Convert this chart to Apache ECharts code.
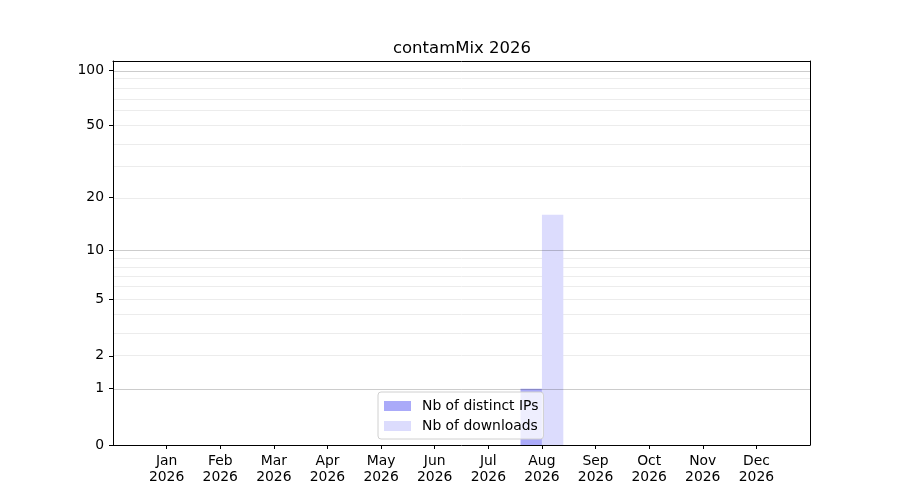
<!DOCTYPE html>
<html lang="en">
<head>
    <meta charset="UTF-8">
    <title>contamMix 2026</title>
</head>
<body style="margin:0">
    <div id="chart" style="width: 900px;height:500px;"></div>
    <script src="https://cdn.jsdelivr.net/npm/echarts@6/dist/echarts.min.js"></script>
    <script type="text/javascript">
       // data
       var months = ['Jan', 'Feb', 'Mar', 'Apr', 'May', 'Jun', 'Jul', 'Aug', 'Sep', 'Oct', 'Nov', 'Dec'];
       var year = '2026';
       var distinctIPs = [0, 0, 0, 0, 0, 0, 0, 1, 0, 0, 0, 0];
       var downloads = [0, 0, 0, 0, 0, 0, 0, 16, 0, 0, 0, 0];
       var yTicks = [0, 1, 2, 5, 10, 20, 50, 100];
       var majorGrid = [1, 10, 100];
       var minorGrid = [2, 3, 4, 5, 6, 7, 8, 9, 20, 30, 40, 50, 60, 70, 80, 90];
       var yMax = 112;

       // y scale is log10(1 + v)
       function t(v) { return Math.log10(1 + v); }
       function untr(v) { return Math.round(Math.pow(10, v) - 1); }

       var font = 'DejaVu Sans';
       var myChart = echarts.init(document.getElementById('chart'));

       // grid lines as markLines: minor ones under the bars, major ones over
       function gridSeries(vals, color, z) {
           return {
               type: 'line',
               z: z,
               data: [],
               markLine: {
                   silent: true,
                   z: z,
                   symbol: 'none',
                   label: { show: false },
                   lineStyle: { color: color, width: 1, type: 'solid' },
                   data: vals.map(function (v) { return { yAxis: t(v) }; })
               }
           };
       }
       var xTickPos = months.map(function (m, i) { return i + 1; });
       var frame = { show: true, onZero: false, lineStyle: { color: '#000', width: 1 } };

       var option = {
           animation: false,
           textStyle: { fontFamily: font },
           title: {
               text: 'contamMix ' + year,
               left: 457,
               top: 35,
               textAlign: 'center',
               textStyle: { fontFamily: font, fontSize: 16.5, fontWeight: 'normal', color: '#000' }
           },
           grid: { left: 113, right: 90, top: 61, bottom: 55 },
           legend: {
               orient: 'vertical',
               left: 378,
               top: 392,
               z: 8,
               padding: [7, 5, 6, 6],
               itemGap: 6,
               itemWidth: 27,
               itemHeight: 10,
               icon: 'rect',
               borderColor: '#d0d0d0',
               borderWidth: 1,
               borderRadius: 3,
               backgroundColor: 'rgba(255,255,255,0.8)',
               textStyle: { fontFamily: font, fontSize: 13.9, color: '#000', padding: [0, 0, 0, 6] },
               data: ['Nb of distinct IPs', 'Nb of downloads']
           },
           xAxis: [{
               type: 'value',
               min: 0,
               max: 13,
               z: 10,
               splitLine: { show: false },
               axisLine: frame,
               axisTick: { show: true, length: 4, lineStyle: { color: '#000' }, customValues: xTickPos },
               axisLabel: {
                   color: '#000', fontSize: 13.9, lineHeight: 16, margin: 8,
                   customValues: xTickPos,
                   formatter: function (v) { return months[v - 1] + '\n' + year; }
               }
           }, {
               type: 'value', position: 'top', min: 0, max: 13, z: 10,
               axisLine: frame, axisTick: { show: false }, axisLabel: { show: false }, splitLine: { show: false }
           }],
           yAxis: [{
               type: 'value',
               min: 0,
               max: t(yMax),
               z: 10,
               splitLine: { show: false },
               axisLine: frame,
               axisTick: { show: true, length: 4, lineStyle: { color: '#000' }, customValues: yTicks.map(t) },
               axisLabel: {
                   color: '#000', fontSize: 13.9, margin: 9,
                   customValues: yTicks.map(t),
                   formatter: function (v) { return String(untr(v)); }
               }
           }, {
               type: 'value', position: 'right', min: 0, max: t(yMax), z: 10,
               axisLine: frame, axisTick: { show: false }, axisLabel: { show: false }, splitLine: { show: false }
           }],
           series: [
               gridSeries(minorGrid, '#ececec', 1),
               gridSeries(majorGrid, 'rgba(0, 0, 0, 0.2)', 5),
               {
                   name: 'Nb of distinct IPs',
                   type: 'bar',
                   z: 3,
                   barWidth: 21.4,
                   barGap: '0%',
                   itemStyle: { color: '#aaaaf9' },
                   data: distinctIPs.map(function (v, i) { return [i + 1, t(v)]; })
               },
               {
                   name: 'Nb of downloads',
                   type: 'bar',
                   z: 3,
                   barWidth: 21.4,
                   barGap: '0%',
                   itemStyle: { color: '#dcdcfd' },
                   data: downloads.map(function (v, i) { return [i + 1, t(v)]; })
               }
           ]
       };
       myChart.setOption(option);
    </script>
</body>
</html>
